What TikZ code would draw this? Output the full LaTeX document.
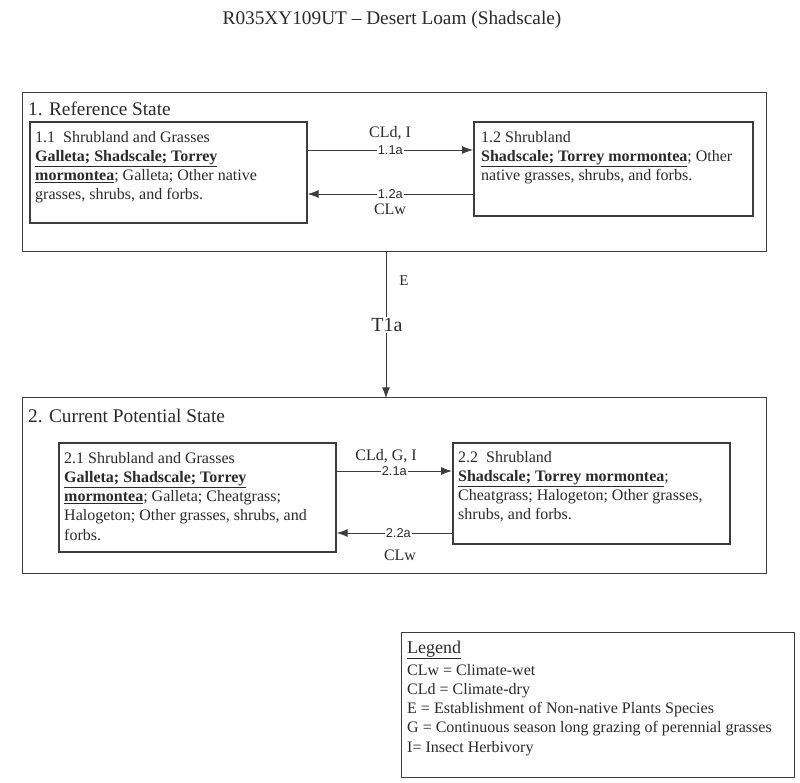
\documentclass[tikz,border=0pt]{standalone}
\usepackage{fontspec}
\setmainfont{Liberation Serif}
\newfontfamily\lsans{Liberation Sans}
\usetikzlibrary{arrows.meta,calc}
\definecolor{ink}{HTML}{2A2A2A}
\definecolor{edgec}{HTML}{3C3C3C}
\begin{document}
\begin{tikzpicture}[x=1pt,y=-1pt,
  statebox/.style={draw=edgec,line width=1.3pt,inner sep=0pt,anchor=north west},
  subbox/.style={draw=edgec,line width=1.6pt,inner sep=0pt,anchor=north west},
  txt/.style={inner sep=0pt,anchor=north west,align=left,text=ink,font=\fontsize{16}{19.2}\selectfont},
  statelab/.style={inner sep=0pt,anchor=base west,text=ink,font=\fontsize{19.3}{23}\selectfont},
  arr/.style={draw=edgec,line width=1pt,-{Latex[length=11pt,width=8pt]}},
  elab/.style={fill=white,inner xsep=1pt,inner ysep=0pt,text=ink,font=\lsans\fontsize{12.8}{14}\selectfont},
  clab/.style={inner sep=0pt,anchor=base,text=ink,font=\fontsize{16}{19.2}\selectfont}
]
\useasboundingbox (0,0) rectangle (800,782);
\fill[white] (0,0) rectangle (800,782);

% title
\node[inner sep=0pt,anchor=base,text=ink,font=\fontsize{19.3}{23}\selectfont] (title) at (392,24) {R035XY109UT -- Desert Loam (Shadscale)};

% state 1
\node[statebox,minimum width=744pt,minimum height=159pt] (s1) at (22,92) {};
\node[statelab] (s1lab) at (28,115) {1. Reference State};
\node[subbox,minimum width=277pt,minimum height=101pt] (b11) at (29,121) {};
\node[txt] (t11) at (35,131) {1.1\ \ Shrubland and Grasses\\
\underline{\textbf{Galleta; Shadscale; Torrey}}\\
\underline{\textbf{mormontea}}; Galleta; Other native\\
grasses, shrubs, and forbs.};
\node[subbox,minimum width=279pt,minimum height=94pt] (b12) at (473,121) {};
\node[txt] (t12) at (481,131) {1.2 Shrubland\\
\underline{\textbf{Shadscale; Torrey mormontea}}; Other\\
native grasses, shrubs, and forbs.};

\draw[arr] (b11.east |- 0,150) -- node[elab] (l11a) {1.1a} (b12.west |- 0,150);
\draw[arr] (b12.west |- 0,194) -- node[elab] (l12a) {1.2a} (b11.east |- 0,194);
\node[clab] (c11) at (390,137) {CLd, I};
\node[clab] (c12) at (390,214) {CLw};

% transition
\draw[arr] (s1.south -| 386,0) -- ($(s1.south -| 386,0)+(0,146)$) coordinate (t1end);
\node[fill=white,inner sep=1pt,text=ink,font=\fontsize{20}{24}\selectfont] (t1a) at (387,325) {T1a};
\node[inner sep=0pt,text=ink,font=\fontsize{15}{18}\selectfont] (eLab) at (404,281) {E};

% state 2
\node[statebox,minimum width=744pt,minimum height=176pt] (s2) at (22,397) {};
\node[statelab] (s2lab) at (28,422) {2. Current Potential State};
\node[subbox,minimum width=277pt,minimum height=109pt] (b21) at (58,442) {};
\node[txt] (t21) at (64,452) {2.1 Shrubland and Grasses\\
\underline{\textbf{Galleta; Shadscale; Torrey}}\\
\underline{\textbf{mormontea}}; Galleta; Cheatgrass;\\
Halogeton; Other grasses, shrubs, and\\
forbs.};
\node[subbox,minimum width=277pt,minimum height=101pt] (b22) at (452,442) {};
\node[txt] (t22) at (458,451) {2.2\ \ Shrubland\\
\underline{\textbf{Shadscale; Torrey mormontea}};\\
Cheatgrass; Halogeton; Other grasses,\\
shrubs, and forbs.};

\draw[arr] (b21.east |- 0,471) -- node[elab] (l21a) {2.1a} (b22.west |- 0,471);
\draw[arr] (b22.west |- 0,533) -- node[elab,xshift=4pt] (l22a) {2.2a} (b21.east |- 0,533);
\node[clab] (c21) at (386,460) {CLd, G, I};
\node[clab] (c22) at (400,560) {CLw};

% legend
\node[statebox,line width=1.2pt,minimum width=393pt,minimum height=145pt] (leg) at (401,632) {};
\node[inner sep=0pt,anchor=base west,text=ink,font=\fontsize{18}{21}\selectfont] (legt) at (407,653) {\underline{Legend}};
\node[txt] (legb) at (407,664) {CLw = Climate-wet\\
CLd = Climate-dry\\
E = Establishment of Non-native Plants Species\\
G = Continuous season long grazing of perennial grasses\\
I= Insect Herbivory};
\end{tikzpicture}
\end{document}
